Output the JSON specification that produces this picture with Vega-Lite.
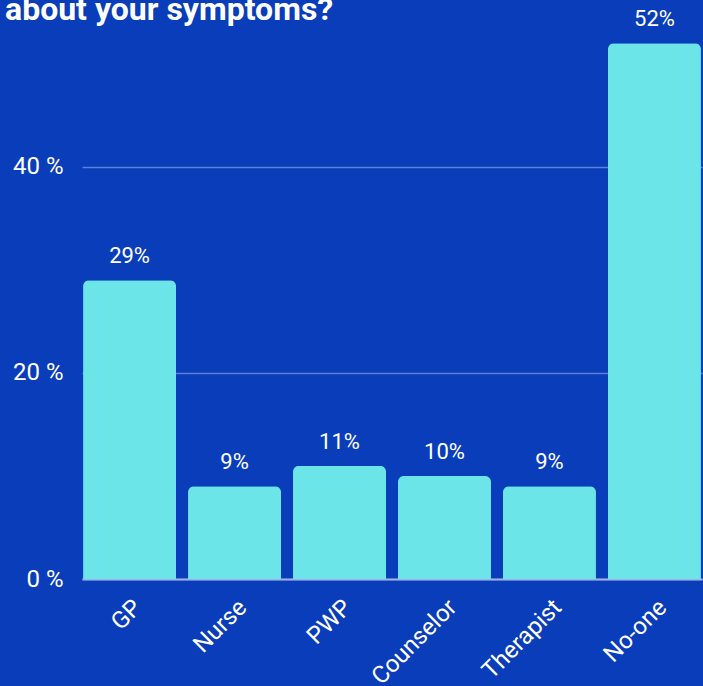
{
  "$schema": "https://vega.github.io/schema/vega-lite/v6.json",
  "width": 620,
  "height": 579,
  "autosize": {"type": "none"},
  "padding": {"left": 82, "top": 0, "right": 1, "bottom": 107},
  "background": "#0a3dba",
  "config": {
    "view": {"stroke": null},
    "font": "Roboto"
  },
  "title": {
    "text": "about your symptoms?",
    "anchor": "start",
    "frame": "group",
    "dx": -77,
    "offset": -52,
    "baseline": "alphabetic",
    "font": "Roboto",
    "fontSize": 32,
    "fontWeight": "bold",
    "color": "#ffffff"
  },
  "data": {
    "values": [
      {"who": "GP", "share": 0.29},
      {"who": "Nurse", "share": 0.09},
      {"who": "PWP", "share": 0.11},
      {"who": "Counselor", "share": 0.10},
      {"who": "Therapist", "share": 0.09},
      {"who": "No-one", "share": 0.52}
    ]
  },
  "encoding": {
    "x": {
      "field": "who",
      "type": "nominal",
      "sort": null,
      "scale": {"paddingInner": 0.114, "paddingOuter": 0.01},
      "axis": {
        "title": null,
        "labelAngle": -45,
        "labelFontSize": 24,
        "labelColor": "#ffffff",
        "labelPadding": 16,
        "ticks": false,
        "domain": true,
        "domainColor": "#9db2e8",
        "domainWidth": 2,
        "grid": false
      }
    },
    "y": {
      "field": "share",
      "type": "quantitative",
      "scale": {"domain": [0, 0.562], "nice": false},
      "axis": {
        "title": null,
        "values": [0, 0.2, 0.4],
        "labelExpr": "format(datum.value * 100, 'd') + ' %'",
        "labelFontSize": 24,
        "labelColor": "#ffffff",
        "labelPadding": 19,
        "ticks": false,
        "domain": false,
        "grid": true,
        "gridColor": "#5b80d8",
        "gridWidth": 1.5
      }
    }
  },
  "layer": [
    {
      "mark": {"type": "bar", "color": "#6be5e8", "cornerRadiusTopLeft": 6, "cornerRadiusTopRight": 6}
    },
    {
      "mark": {"type": "text", "color": "#ffffff", "fontSize": 22, "baseline": "alphabetic", "dy": -17},
      "encoding": {
        "text": {"field": "share", "type": "quantitative", "format": ".0%"}
      }
    }
  ]
}
